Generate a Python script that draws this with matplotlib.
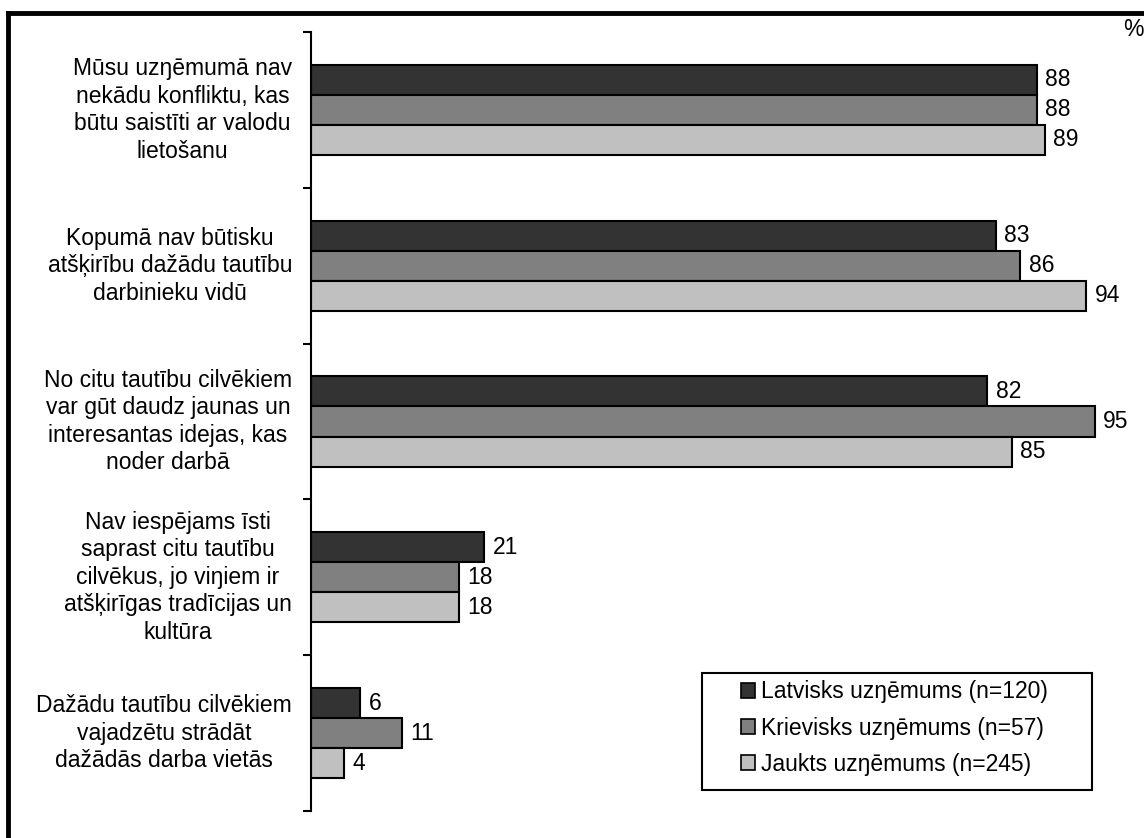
import numpy as np
import matplotlib
matplotlib.use("Agg")
import matplotlib.pyplot as plt
from matplotlib.lines import Line2D
from matplotlib.patches import Rectangle

plt.rcParams['font.family'] = ['Liberation Sans', 'DejaVu Sans']

categories = [
    "Mūsu uzŋēmumā nav\nnekādu konfliktu, kas\nbūtu saistīti ar valodu\nlietošanu",
    "Kopumā nav būtisku\natšķirību dažādu tautību\ndarbinieku vidū",
    "No citu tautību cilvēkiem\nvar gūt daudz jaunas un\ninteresantas idejas, kas\nnoder darbā",
    "Nav iespējams īsti\nsaprast citu tautību\ncilvēkus, jo viŋiem ir\natšķirīgas tradīcijas un\nkultūra",
    "Dažādu tautību cilvēkiem\nvajadzētu strādāt\ndažādās darba vietās",
]
series_names = [
    "Latvisks uzŋēmums (n=120)",
    "Krievisks uzŋēmums (n=57)",
    "Jaukts uzŋēmums (n=245)",
]
latvisks = [88, 83, 82, 21, 6]
krievisks = [88, 86, 95, 18, 11]
jaukts = [89, 94, 85, 18, 4]
colors = ["#333333", "#808080", "#c0c0c0"]

FS = 16.5

fig = plt.figure(figsize=(11.44, 8.38), dpi=100)
ax = fig.add_axes([311 / 1144, 1 - 811 / 838, 1 - 311 / 1144, 779 / 838])

bh = 0.193
n = len(categories)
centers = np.arange(n) + 0.5
for j, (vals, name) in enumerate(zip([latvisks, krievisks, jaukts], series_names)):
    ypos = centers + (j - 1) * bh
    ax.barh(ypos, vals, height=bh, color=colors[j], edgecolor="black",
            linewidth=1.5, label=name)
    for y, v in zip(ypos, vals):
        ax.text(v + 1.0, y, str(v), va="center", ha="left", fontsize=FS)

ax.set_xlim(0, 101)
ax.set_ylim(n, 0)
ax.set_yticks(np.arange(n + 1))
ax.set_yticklabels([])
ax.tick_params(axis="y", direction="out", length=6, width=1.5)
ax.set_xticks([])
for s in ["top", "right", "bottom"]:
    ax.spines[s].set_visible(False)
ax.spines["left"].set_linewidth(1.5)

for c, label in zip(centers, categories):
    ax.text(-2.3, c, label, ha="right", va="center", multialignment="center",
            fontsize=FS, linespacing=1.25)

leg = ax.legend(loc="center left", bbox_to_anchor=(741 / 1144, 1 - 728 / 838),
                bbox_transform=fig.transFigure, frameon=False, fontsize=FS,
                handlelength=0.62, handleheight=0.62, handletextpad=0.25,
                labelspacing=0.58, borderpad=0, borderaxespad=0)
for h in leg.legend_handles:
    h.set_linewidth(1.2)

fig.add_artist(Rectangle((702 / 1144, 1 - 790 / 838), 390 / 1144, 117 / 838,
                         transform=fig.transFigure, fill=False,
                         edgecolor="black", linewidth=1.5))

fig.text(1133 / 1144, 1 - 30 / 838, "%", ha="center", va="center", fontsize=FS)

# outer frame (only top and left edges are visible)
fig.add_artist(Line2D([8 / 1144, 8 / 1144], [0, 1 - 13 / 838], transform=fig.transFigure,
                      color="black", linewidth=3.5))
fig.add_artist(Line2D([8 / 1144, 1], [1 - 13 / 838, 1 - 13 / 838], transform=fig.transFigure,
                      color="black", linewidth=3.5))

plt.savefig("out.png", dpi=100)
